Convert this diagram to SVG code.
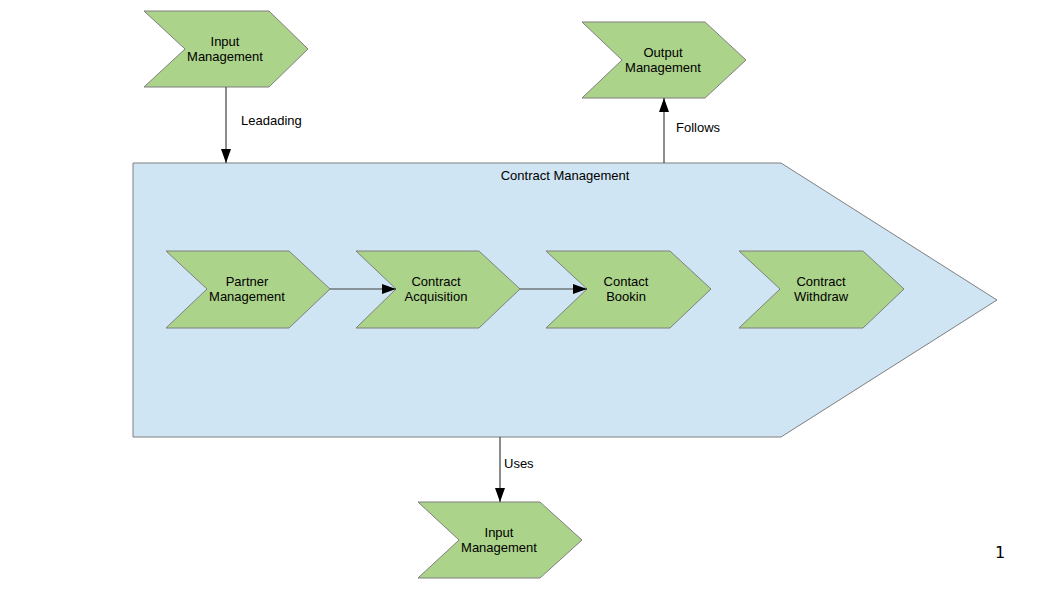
<svg xmlns="http://www.w3.org/2000/svg" width="1058" height="595" viewBox="0 0 1058 595">
<style>
.step{fill:#acd38a;stroke:#7f7f7f;stroke-width:1}
.big{fill:#cfe5f3;stroke:#7f7f7f;stroke-width:1}
.t{font-family:"Liberation Sans",Arial,sans-serif;font-size:13px;fill:#000;text-anchor:middle}
.lbl{font-family:"Liberation Sans",Arial,sans-serif;font-size:13px;fill:#000}
.c{stroke:#404040;stroke-width:1.2;fill:none;marker-end:url(#ah)}
</style>
<defs>
<marker id="ah" viewBox="0 0 14 10" refX="14" refY="5" markerWidth="14" markerHeight="10" markerUnits="userSpaceOnUse" orient="auto">
<path d="M0,0 L14,5 L0,10 Z" fill="#000"/>
</marker>
</defs>
<rect width="1058" height="595" fill="#fff"/>
<g id="contract-management">
<polygon class="big" points="133,163 781,163 997,300 781,437 133,437"/>
<text class="t" x="565" y="180">Contract Management</text>
</g>
<g id="input-management-top">
<polygon class="step" points="144,11 269,11 308,49 269,87 144,87 185,49"/>
<text class="t" x="225" y="46">Input</text>
<text class="t" x="225" y="61">Management</text>
</g>
<g id="output-management">
<polygon class="step" points="582,22 705,22 746,60 705,98 582,98 622,60"/>
<text class="t" x="663" y="57">Output</text>
<text class="t" x="663" y="72">Management</text>
</g>
<g id="partner-management">
<polygon class="step" points="166,251 289,251 330,289 289,328 166,328 207,289"/>
<text class="t" x="247" y="286">Partner</text>
<text class="t" x="247" y="301">Management</text>
</g>
<g id="contract-acquisition">
<polygon class="step" points="356,251 479,251 520,289 479,328 356,328 396,289"/>
<text class="t" x="436" y="286">Contract</text>
<text class="t" x="436" y="301">Acquisition</text>
</g>
<g id="contact-bookin">
<polygon class="step" points="546,251 670,251 711,289 670,328 546,328 587,289"/>
<text class="t" x="626" y="286">Contact</text>
<text class="t" x="626" y="301">Bookin</text>
</g>
<g id="contract-withdraw">
<polygon class="step" points="739,251 863,251 904,289 863,328 739,328 780,289"/>
<text class="t" x="821" y="286">Contract</text>
<text class="t" x="821" y="301">Withdraw</text>
</g>
<g id="input-management-bottom">
<polygon class="step" points="418,502 540,502 582,540 540,578 418,578 459,540"/>
<text class="t" x="499" y="537">Input</text>
<text class="t" x="499" y="552">Management</text>
</g>
<g id="connectors">
<line class="c" x1="226" y1="87" x2="226" y2="163"/>
<line class="c" x1="664" y1="163" x2="664" y2="98"/>
<line class="c" x1="500" y1="437" x2="500" y2="502"/>
<line class="c" x1="330" y1="289" x2="396" y2="289"/>
<line class="c" x1="520" y1="289" x2="587" y2="289"/>
<text class="lbl" x="241" y="125">Leadading</text>
<text class="lbl" x="676" y="132">Follows</text>
<text class="lbl" x="504" y="468">Uses</text>
</g>
<text x="1000" y="558" font-family="'DejaVu Sans',sans-serif" font-size="16" text-anchor="middle">1</text>
</svg>
